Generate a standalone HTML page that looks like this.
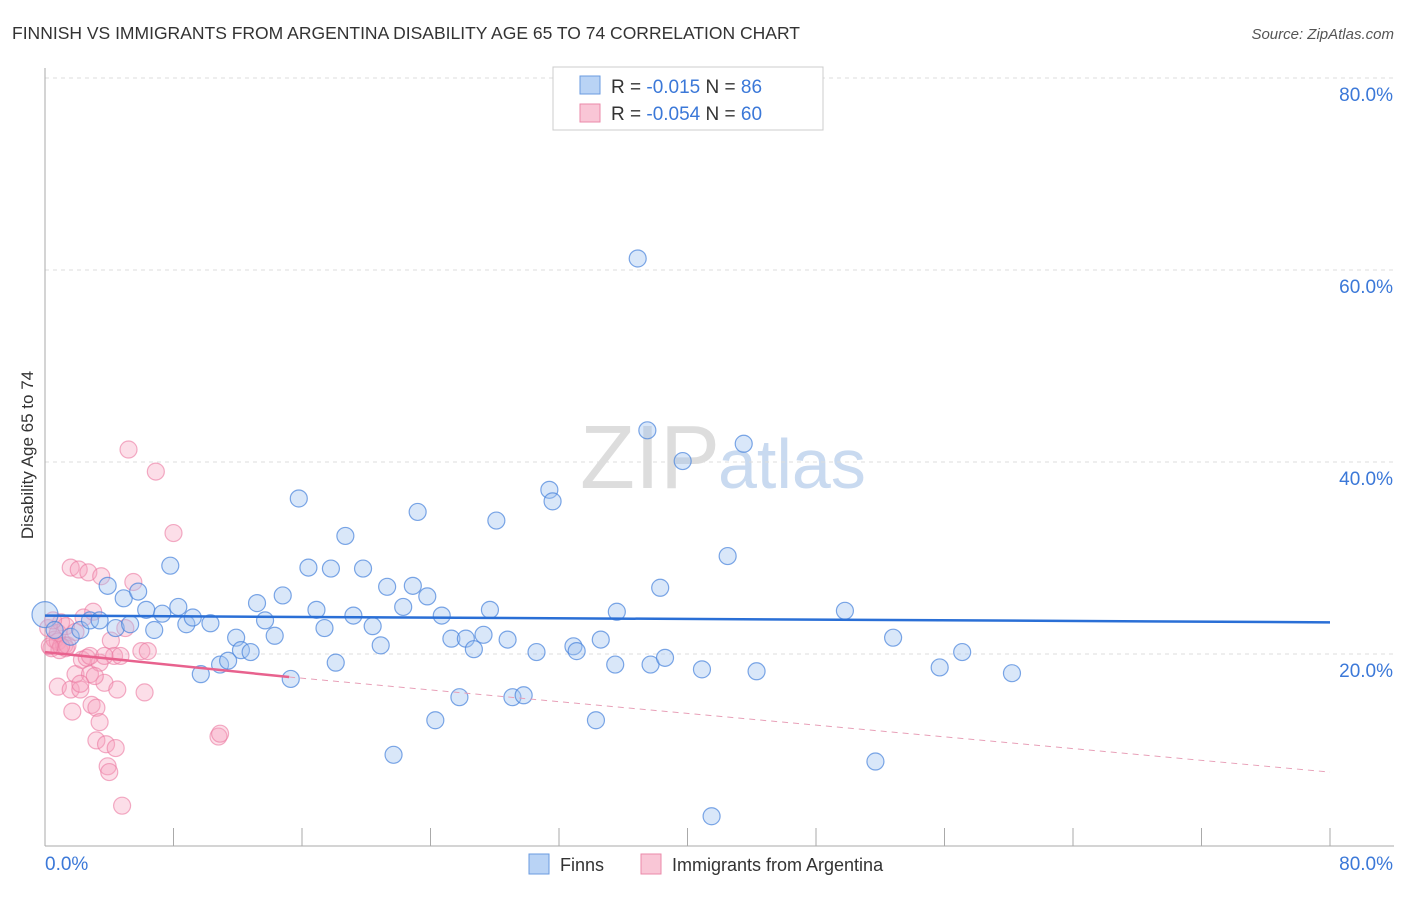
<!DOCTYPE html>
<html><head><meta charset="utf-8"><style>
body{margin:0;background:#fff;font-family:"Liberation Sans",sans-serif;}
svg text{font-family:"Liberation Sans",sans-serif;}
</style></head><body>
<svg id="c" width="1406" height="892">
<text x="12" y="39" font-size="17.5" fill="#333">FINNISH VS IMMIGRANTS FROM ARGENTINA DISABILITY AGE 65 TO 74 CORRELATION CHART</text>
<text x="1394" y="39" font-size="15" fill="#555" font-style="italic" text-anchor="end">Source: ZipAtlas.com</text>
<text x="720" y="488" font-size="90" fill="#ddd" font-family="Liberation Serif" text-anchor="end">ZIP</text>
<text x="718" y="488" font-size="70" fill="#c9daf0">atlas</text>
<text transform="translate(33,455) rotate(-90)" font-size="17" fill="#333" text-anchor="middle">Disability Age 65 to 74</text>
<g id="grid"></g><g id="marks"></g>
<g>
<rect x="553" y="67" width="270" height="63" fill="#fff" stroke="#ccc"/>
<rect x="580" y="76" width="20" height="18" fill="#b9d3f5" stroke="#6a9be0"/>
<rect x="580" y="104" width="20" height="18" fill="#f9c6d6" stroke="#eb8aa9"/>
<text x="611" y="93" font-size="19" fill="#333">R = <tspan fill="#3b78d8">-0.015</tspan>   N = <tspan fill="#3b78d8">86</tspan></text>
<text x="611" y="120" font-size="19" fill="#333">R = <tspan fill="#3b78d8">-0.054</tspan>   N = <tspan fill="#3b78d8">60</tspan></text>
</g>
<g>
<rect x="529" y="854" width="20" height="20" fill="#b9d3f5" stroke="#6a9be0"/>
<text x="560" y="871" font-size="18" fill="#333">Finns</text>
<rect x="641" y="854" width="20" height="20" fill="#f9c6d6" stroke="#eb8aa9"/>
<text x="672" y="871" font-size="18" fill="#333">Immigrants from Argentina</text>
</g>
</svg>
<script>
const yTicks=[20,40,60,80];
const yTickLabels=["20.0%","40.0%","60.0%","80.0%"];
const xTickLabels=["0.0%","80.0%"];
const finnsX=[0,0.6,1.6,2.2,2.8,3.4,3.9,4.4,4.9,5.3,5.8,6.3,6.8,7.3,7.8,8.3,8.8,9.2,9.7,10.3,10.9,11.4,11.9,12.2,12.8,13.2,13.7,14.3,14.8,15.3,15.8,16.4,16.9,17.4,17.8,18.1,18.7,19.2,19.8,20.4,20.9,21.3,21.7,22.3,22.9,23.2,23.8,24.3,24.7,25.3,25.8,26.2,26.7,27.3,27.7,28.1,28.8,29.1,29.8,30.6,31.4,31.6,32.9,33.1,34.3,34.6,35.5,35.6,36.9,37.5,37.7,38.3,38.6,39.7,40.9,41.5,42.5,43.5,44.3,49.8,51.7,52.8,55.7,57.1,60.2];
const finnsY=[24.1,22.5,21.8,22.5,23.5,23.5,27.1,22.7,25.8,23.1,26.5,24.6,22.5,24.2,29.2,24.9,23.1,23.8,17.9,23.2,18.9,19.3,21.7,20.4,20.2,25.3,23.5,21.9,26.1,17.4,36.2,29.0,24.6,22.7,28.9,19.1,32.3,24.0,28.9,22.9,20.9,27.0,9.5,24.9,27.1,34.8,26.0,13.1,24.0,21.6,15.5,21.6,20.5,22.0,24.6,33.9,21.5,15.5,15.7,20.2,37.1,35.9,20.8,20.3,13.1,21.5,18.9,24.4,61.2,43.3,18.9,26.9,19.6,40.1,18.4,3.1,30.2,41.9,18.2,24.5,8.8,21.7,18.6,20.2,18.0];
const argX=[0.2,0.4,0.6,0.8,0.9,1.0,1.2,1.3,1.4,1.6,1.7,0.8,1.6,1.9,2.1,2.2,2.3,2.4,2.6,2.7,2.8,2.9,3.0,3.2,3.2,3.4,3.4,3.5,3.7,3.8,3.9,4.0,4.1,4.3,4.4,4.5,4.7,4.8,5.0,5.2,5.5,6.0,6.2,6.4,6.9,8.0,10.8,10.9,0.8,1.0,1.3,0.5,0.3,1.9,2.2,2.8,3.1,3.7];
const argY=[22.7,20.6,21.5,21.3,20.4,23.3,20.9,20.6,20.9,29.0,14.0,16.6,16.3,17.9,28.8,16.3,19.4,23.8,19.6,28.5,17.9,14.7,24.4,14.4,11.0,19.1,12.9,28.1,17.0,10.6,8.3,7.7,21.4,19.8,10.2,16.3,19.8,4.2,22.7,41.3,27.5,20.3,16.0,20.3,39.0,32.6,11.4,11.7,22.2,20.8,22.9,23.5,20.8,22.3,16.9,19.8,17.7,19.8];
const blueLine=[[0,24.0],[80,23.3]];
const pinkSolid=[[0,20.2],[15.2,17.6]];
const pinkDash=[[15.2,17.6],[80,7.7]];
const NS="http://www.w3.org/2000/svg";
const X=v=>45+v*(1330-45)/80, Y=v=>846-v*9.6;
function mk(t,a,p){const e=document.createElementNS(NS,t);for(const k in a)e.setAttribute(k,a[k]);p.appendChild(e);return e;}
const g=document.getElementById('grid'), m=document.getElementById('marks');
yTicks.forEach((t,i)=>{
 const l=mk('line',{x1:45,x2:1394,y1:Y(t),y2:Y(t),stroke:'#ddd','stroke-dasharray':'4,4'},g);
 
 const tx=mk('text',{x:1393,y:Y(t)+23,'font-size':19,fill:'#3b78d8','text-anchor':'end'},g);tx.textContent=yTickLabels[i];
 
});
const ax=mk('line',{x1:45,x2:45,y1:68,y2:846,stroke:'#aaa'},g);
const bx=mk('line',{x1:45,x2:1394,y1:846,y2:846,stroke:'#aaa'},g);
for(let i=0;i<=10;i++){const t=mk('line',{x1:X(i*8),x2:X(i*8),y1:828,y2:846,stroke:'#aaa'},g);}
[[45,'start',0],[1393,'end',1]].forEach(([x,a,i])=>{const t=mk('text',{x:x,y:870,'font-size':19,fill:'#3b78d8','text-anchor':a},g);t.textContent=xTickLabels[i];});
argX.forEach((v,i)=>{const c=mk('circle',{cx:X(v),cy:Y(argY[i]),r:8.5,fill:'rgba(245,160,190,0.35)',stroke:'rgba(235,120,160,0.6)','stroke-width':1.2},m);
 });
finnsX.forEach((v,i)=>{const c=mk('circle',{cx:X(v),cy:Y(finnsY[i]),r:i==0?13:8.5,fill:'rgba(160,195,240,0.4)',stroke:'rgba(70,130,220,0.7)','stroke-width':1.2},m);
 });
function ln(d,st,w,dash,name){const l=mk('line',{x1:X(d[0][0]),y1:Y(d[0][1]),x2:X(d[1][0]),y2:Y(d[1][1]),stroke:st,'stroke-width':w},m);if(dash)l.setAttribute('stroke-dasharray',dash);
 }
ln(blueLine,'#2a6fd6',2.5,null,'finns-trend-line');
ln(pinkSolid,'#e8628e',2.5,null,'argentina-trend-line');
ln(pinkDash,'#e8a0b8',1,'6,5','argentina-trend-extension');
</script>
</body></html>
